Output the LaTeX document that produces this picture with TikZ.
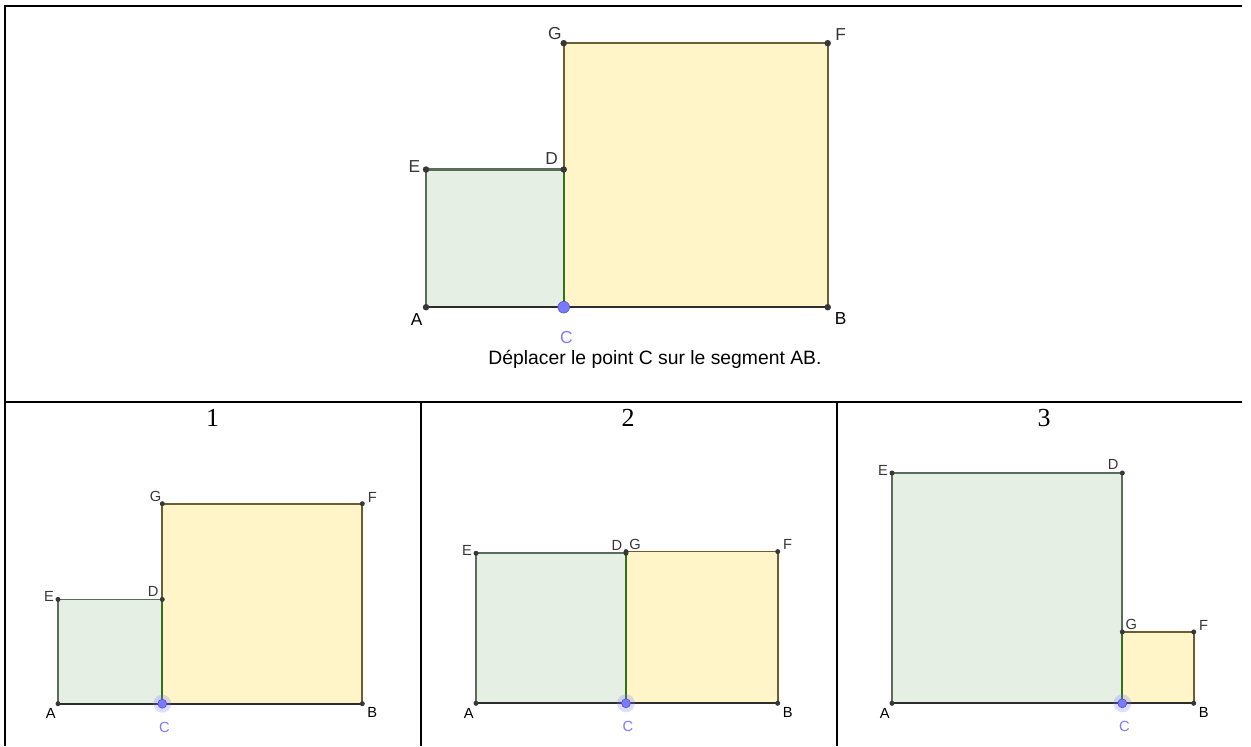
\documentclass[tikz,border=0pt]{standalone}
\usepackage{fontspec}
\setmainfont{Liberation Sans}
\newfontfamily\numfont{Liberation Serif}
\usetikzlibrary{calc}
\definecolor{vert}{RGB}{229,239,228}
\definecolor{vertline}{RGB}{88,110,88}
\definecolor{cdline}{RGB}{45,115,25}
\definecolor{jaune}{RGB}{255,245,200}
\definecolor{jauneline}{RGB}{105,95,50}
\definecolor{segline}{RGB}{45,45,45}
\definecolor{ptgrey}{RGB}{55,55,55}
\definecolor{lblgrey}{RGB}{55,55,55}
\definecolor{cblue}{RGB}{122,122,255}
\definecolor{cbluedark}{RGB}{75,75,200}
\tikzset{
  cadre/.style={draw=black, line width=1.5pt},
  carreA/.style={fill=vert, draw=vertline},
  carreB/.style={fill=jaune, draw=jauneline},
  segAB/.style={draw=segline},
  segCD/.style={draw=cdline},
  pnt/.style={fill=ptgrey},
  pntC/.style={fill=cblue, draw=cbluedark, line width=0.4pt},
  halo/.style={fill=cblue, fill opacity=0.25},
  lbl/.style={font=\fontsize{11}{13}\selectfont, text=lblgrey, inner sep=0pt},
  lblC/.style={lbl, text=cblue},
  num/.style={font=\numfont\fontsize{19.5}{22}\selectfont, inner sep=0pt},
  consigne/.style={font=\fontsize{14.5}{17}\selectfont, anchor=base, inner sep=0pt},
}
% #1 prefix, #2 x of A, #3 x of C, #4 x of B, #5 y of AB, #6 label scale, #7 x offset of label G
\newcommand{\deuxcarres}[7]{%
  \coordinate (#1A) at (#2,#5);
  \coordinate (#1C) at (#3,#5);
  \coordinate (#1B) at (#4,#5);
  \coordinate (#1E) at (#2,{#5-(#3-#2)});
  \coordinate (#1D) at (#3,{#5-(#3-#2)});
  \coordinate (#1G) at (#3,{#5-(#4-#3)});
  \coordinate (#1F) at (#4,{#5-(#4-#3)});
  \coordinate (#1M) at (#3,{#5-min(#3-#2,#4-#3)});
  \filldraw[carreA] (#1A) -- (#1C) -- (#1D) -- (#1E) -- cycle;
  \filldraw[carreB] (#1C) -- (#1B) -- (#1F) -- (#1G) -- cycle;
  \draw[segAB] (#1A) -- (#1B);
  \draw[segCD] (#1C) -- (#1M);
  \foreach \p in {A,B,D,E,F,G} \fill[pnt] (#1\p) circle ({2.5*#6});
  \fill[halo] (#1C) circle ({9*#6});
  \filldraw[pntC] (#1C) circle ({4.5*#6});
  \node[lbl, text=black] (#1lA) at ($(#1A)+({-7.2*#6},{9.7*#6})$) {A};
  \node[lbl, text=black] (#1lB) at ($(#1B)+({10*#6},{8.8*#6})$) {B};
  \node[lblC] (#1lC) at ($(#1C)+({2*#6},{23.6*#6})$) {C};
  \node[lbl] (#1lD) at ($(#1D)+({-9.2*#6},{-8.3*#6})$) {D};
  \node[lbl] (#1lE) at ($(#1E)+({-9*#6},{-2.5*#6})$) {E};
  \node[lbl] (#1lF) at ($(#1F)+({10*#6},{-6.7*#6})$) {F};
  \node[lbl] (#1lG) at ($(#1G)+({#7*#6},{-7.3*#6})$) {G};
}
\begin{document}
\begin{tikzpicture}[x=0.75pt, y=-0.75pt, line join=miter]
  \useasboundingbox (0,0) rectangle (1251,746);

  %% table frame
  \draw[cadre] (5,746) -- (5,5.7) -- (1242,5.7);
  \draw[cadre] (5,402) -- (1242,402);
  \draw[cadre] (421,402) -- (421,746);
  \draw[cadre] (837,402) -- (837,746);

  %% top figure
  \begin{scope}[line width=1.7pt, lbl/.append style={font=\fontsize{13}{15}\selectfont},
                halo/.style={fill opacity=0}]
    \deuxcarres{t}{426}{563.7}{827.7}{307.2}{1.3}{-6.8}
  \end{scope}
  \node[consigne] (txt) at (655,364) {Déplacer le point C sur le segment AB.};

  %% three positions of C
  \begin{scope}[line width=1.3pt]
    \deuxcarres{u}{58}{162.3}{362.3}{703.7}{1}{-6.8}
    \deuxcarres{v}{476}{626}{777.7}{703.3}{1}{9}
    \deuxcarres{w}{892}{1122.3}{1193.7}{703.3}{1}{9}
  \end{scope}
  \node[num] (n1) at (212.7,418.3) {1};
  \node[num] (n2) at (628,418.3) {2};
  \node[num] (n3) at (1044,418.3) {3};
\end{tikzpicture}
\end{document}
